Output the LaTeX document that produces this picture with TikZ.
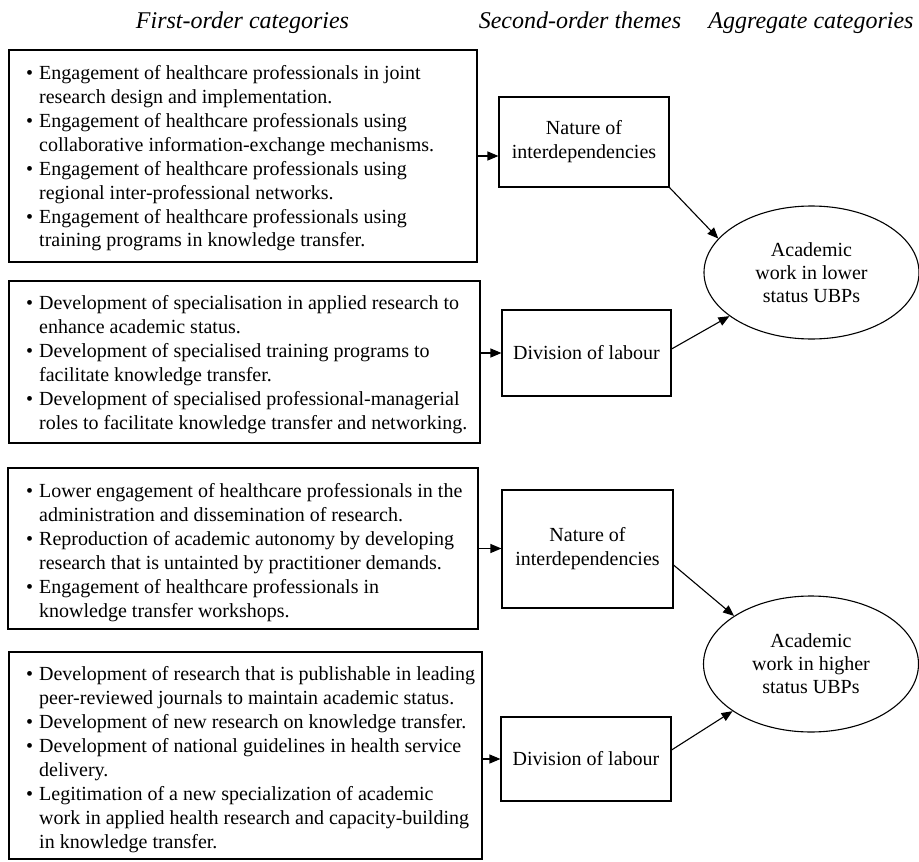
\documentclass[tikz,border=0pt]{standalone}
\usepackage{fontspec}
\setmainfont{Liberation Serif}
\usetikzlibrary{arrows.meta,shapes.geometric}
\newcommand{\bitem}[1]{\par\hangindent=13pt\hangafter=1\noindent\makebox[13pt][l]{\textbullet}#1}
\begin{document}
\begin{tikzpicture}[x=1pt,y=-1pt,
  box/.style={draw,line width=1.1pt,rectangle,inner sep=0pt},
  midbox/.style={box,align=center,font=\fontsize{20}{24}\selectfont},
  oval/.style={draw,line width=1.1pt,ellipse,inner sep=0pt,align=center,font=\fontsize{20}{23}\selectfont},
  txt/.style={anchor=base west,inner sep=0pt,font=\fontsize{20}{24}\selectfont},
  head/.style={anchor=base,inner sep=0pt,font=\fontsize{24}{28}\selectfont\itshape},
  arr/.style={line width=1.1pt,-{Triangle[length=11pt,width=9pt]}}]
\useasboundingbox (0,0) rectangle (919,862);

% headers
\node[head] (h1) at (242.5,28) {First-order categories};
\node[head] (h2) at (580,28) {Second-order themes};
\node[head] (h3) at (811,28) {Aggregate categories};

% first-order boxes
\node[box,minimum width=468pt,minimum height=212pt] (b1) at (243,156) {};
\node[box,minimum width=471pt,minimum height=162pt] (b2) at (244.5,362) {};
\node[box,minimum width=470pt,minimum height=161pt] (b3) at (243,548.5) {};
\node[box,minimum width=473pt,minimum height=207pt] (b4) at (245.5,755.5) {};

\node[txt] (t1) at (26,79) {\parbox[t]{480pt}{\parindent=0pt\parskip=0pt
\bitem{Engagement of healthcare professionals in joint\\research design and implementation.}
\bitem{Engagement of healthcare professionals using\\collaborative information-exchange mechanisms.}
\bitem{Engagement of healthcare professionals using\\regional inter-professional networks.}
\bitem{Engagement of healthcare professionals using\\training programs in knowledge transfer.}}};

\node[txt] (t2) at (26,309) {\parbox[t]{480pt}{\parindent=0pt\parskip=0pt
\bitem{Development of specialisation in applied research to\\enhance academic status.}
\bitem{Development of specialised training programs to\\facilitate knowledge transfer.}
\bitem{Development of specialised professional-managerial\\roles to facilitate knowledge transfer and networking.}}};

\node[txt] (t3) at (26,497) {\parbox[t]{480pt}{\parindent=0pt\parskip=0pt
\bitem{Lower engagement of healthcare professionals in the\\administration and dissemination of research.}
\bitem{Reproduction of academic autonomy by developing\\research that is untainted by practitioner demands.}
\bitem{Engagement of healthcare professionals in\\knowledge transfer workshops.}}};

\node[txt] (t4) at (26,680) {\parbox[t]{480pt}{\parindent=0pt\parskip=0pt
\bitem{Development of research that is publishable in leading\\peer-reviewed journals to maintain academic status.}
\bitem{Development of new research on knowledge transfer.}
\bitem{Development of national guidelines in health service\\delivery.}
\bitem{Legitimation of a new specialization of academic\\work in applied health research and capacity-building\\in knowledge transfer.}}};

% second-order themes
\node[midbox,minimum width=170pt,minimum height=90pt] (n1) at (584,142) {Nature of\\interdependencies};
\node[midbox,minimum width=169pt,minimum height=86pt] (d1) at (586.5,353) {Division of labour};
\node[midbox,minimum width=171pt,minimum height=118pt] (n2) at (587.5,549) {Nature of\\interdependencies};
\node[midbox,minimum width=170pt,minimum height=84pt] (d2) at (586,759) {Division of labour};

% aggregate categories
\node[oval,minimum width=215pt,minimum height=133pt] (e1) at (811.5,272.5) {Academic\\work in lower\\status UBPs};
\node[oval,minimum width=215pt,minimum height=136pt] (e2) at (811,664) {Academic\\work in higher\\status UBPs};

% connectors
\draw[arr] (b1.east) -- (b1.east -| n1.west);
\draw[arr] (d1.west -| b2.east) -- (d1.west);
\draw[arr] (b3.east) -- (b3.east -| n2.west);
\draw[arr] (d2.west -| b4.east) -- (d2.west);
\draw[arr] (n1.south east) -- (e1.160);
\draw[arr] ([yshift=4pt]d1.east) -- (e1.208);
\draw[arr] ([yshift=-16pt]n2.east) -- (e2.148);
\draw[arr] ([yshift=9pt]d2.east) -- (e2.211);
\end{tikzpicture}
\end{document}
